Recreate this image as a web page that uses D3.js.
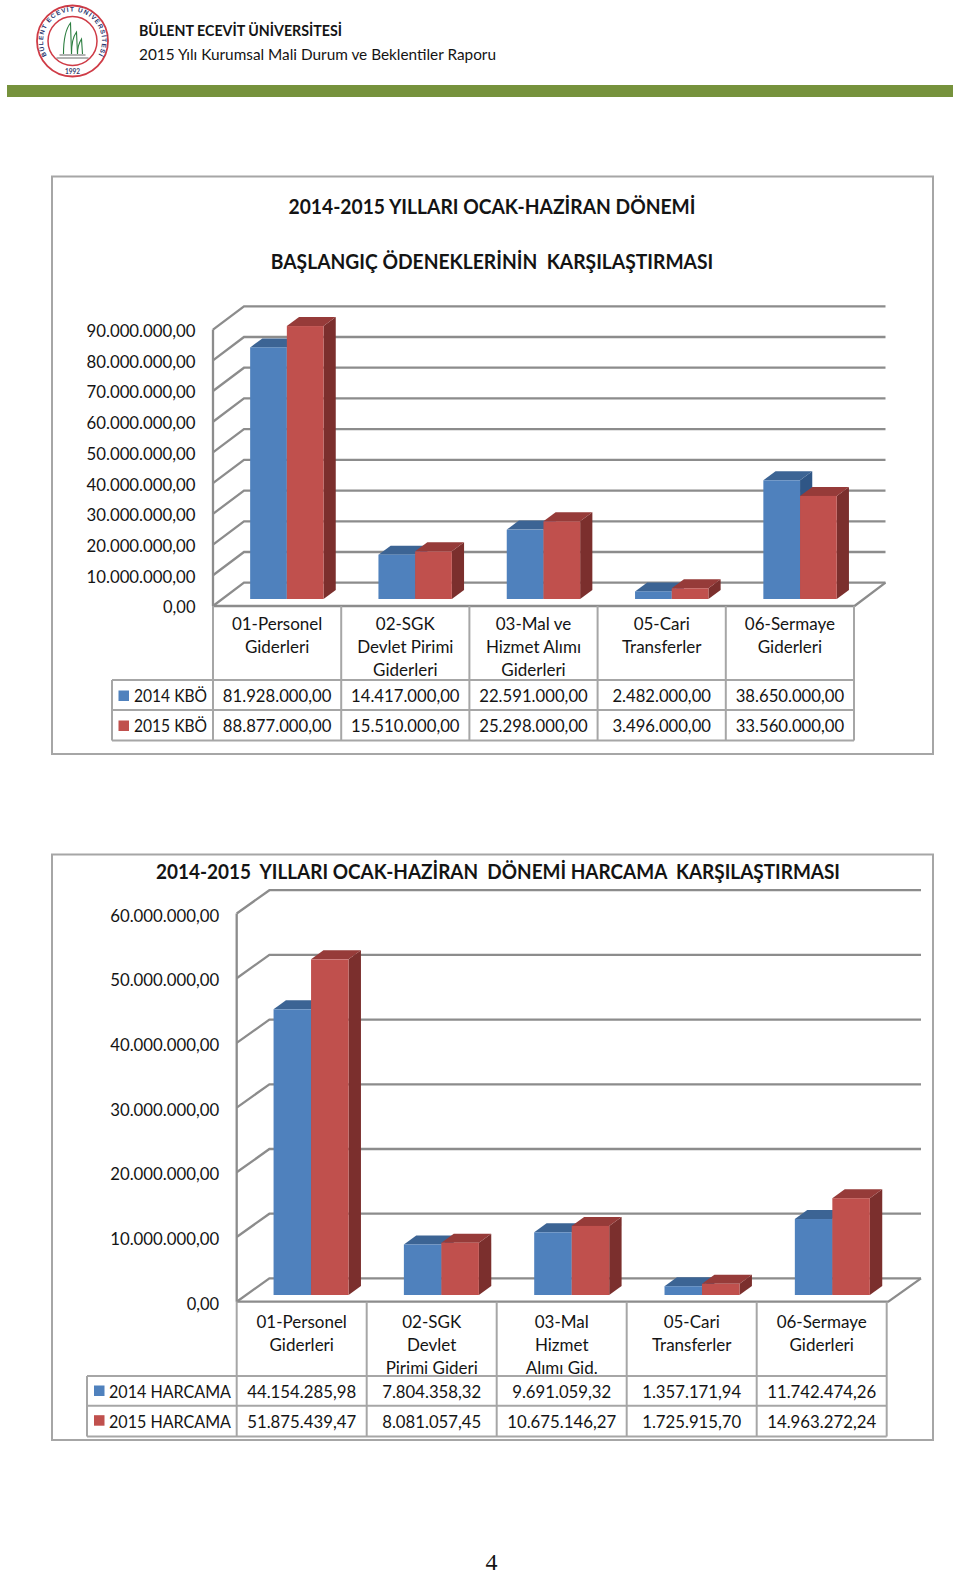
<!DOCTYPE html>
<html><head><meta charset="utf-8">
<script src="https://cdn.jsdelivr.net/npm/d3@7/dist/d3.min.js"></script>
<style>
html,body{margin:0;padding:0;background:#fff}
svg{display:block}
text{font-family:Lato,"Open Sans",sans-serif;fill:#141414;white-space:pre}
</style></head><body><svg id="c" width="960" height="1575"></svg>
<script>
// ---------- data ----------
const categoriesA = [["01-Personel","Giderleri"],["02-SGK","Devlet Pirimi","Giderleri"],["03-Mal ve","Hizmet Alımı","Giderleri"],["05-Cari","Transferler"],["06-Sermaye","Giderleri"]];
const kbo2014 = [81928000,14417000,22591000,2482000,38650000];
const kbo2015 = [88877000,15510000,25298000,3496000,33560000];
const seriesNamesA = ["2014 KBÖ","2015 KBÖ"];
const ticksA = [0,10e6,20e6,30e6,40e6,50e6,60e6,70e6,80e6,90e6];
const titleA = ["2014-2015 YILLARI OCAK-HAZİRAN DÖNEMİ","BAŞLANGIÇ ÖDENEKLERİNİN  KARŞILAŞTIRMASI"];

const categoriesB = [["01-Personel","Giderleri"],["02-SGK","Devlet","Pirimi Gideri"],["03-Mal","Hizmet","Alımı Gid."],["05-Cari","Transferler"],["06-Sermaye","Giderleri"]];
const harcama2014 = [44154285.98,7804358.32,9691059.32,1357171.94,11742474.26];
const harcama2015 = [51875439.47,8081057.45,10675146.27,1725915.70,14963272.24];
const seriesNamesB = ["2014 HARCAMA","2015 HARCAMA"];
const ticksB = [0,10e6,20e6,30e6,40e6,50e6,60e6];
const titleB = ["2014-2015  YILLARI OCAK-HAZİRAN  DÖNEMİ HARCAMA  KARŞILAŞTIRMASI"];

const headerLines = ["BÜLENT ECEVİT ÜNİVERSİTESİ","2015 Yılı Kurumsal Mali Durum ve Beklentiler Raporu"];
const seriesFront = ["#4f81bd","#c0504d"];
const seriesTop = ["#3c6494","#963b39"];
const seriesSide = ["#2f5686","#7b2f2d"];
// ---------- end data ----------

const svg = d3.select("#c");
const fmt = d3.formatLocale({decimal:",",thousands:".",grouping:[3],currency:["",""]}).format(",.2f");
const GRID="#8c8c8c", TABLE="#a6a6a6", FRAME="#a6a6a6";

function txt(g,x,y,s,size,opt={}){
  const t=g.append("text").attr("x",x).attr("y",y).attr("font-size",size)
   .attr("text-anchor",opt.anchor||"start").text(s);
  if(opt.bold)t.attr("font-weight",700);
  if(opt.len)t.attr("textLength",opt.len).attr("lengthAdjust","spacingAndGlyphs");
  return t;
}

function chart(cfg){
  const g=svg.append("g");
  g.append("rect").attr("x",cfg.frame[0]).attr("y",cfg.frame[1])
    .attr("width",cfg.frame[2]-cfg.frame[0]).attr("height",cfg.frame[3]-cfg.frame[1])
    .attr("fill","#fff").attr("stroke",FRAME).attr("stroke-width",2);

  const y=d3.scaleLinear().domain(cfg.yDomain).range([cfg.y0,cfg.yTop]);
  const x=d3.scaleBand().domain(d3.range(cfg.cats.length)).range([cfg.x0,cfg.x1]);
  const xt=d3.scaleBand().domain(d3.range(cfg.cats.length)).range([cfg.x0,cfg.tableX1]);
  const xs=d3.scaleBand().domain([0,1]).range([0,cfg.barW*2]);
  const {dx,dy}=cfg.wall;

  // walls and floor
  const walls=g.append("g").attr("fill","none").attr("stroke",GRID).attr("stroke-width",2.3);
  cfg.ticks.forEach(v=>{
    walls.append("path").attr("d",d3.line()([[cfg.x0,y(v)],[cfg.x0+dx,y(v)+dy],[cfg.x1+dx,y(v)+dy]]));
  });
  walls.append("path").attr("d",d3.line()([[cfg.x0,y(0)],[cfg.x1,y(0)],[cfg.x1+dx,y(0)+dy]]));
  walls.append("path").attr("d",d3.line()([[cfg.x0,y(0)],[cfg.x0,y(cfg.yDomain[1])]]));

  // axis labels
  const ax=g.append("g").attr("transform",`translate(${cfg.x0-17.5},${cfg.labelDy})`)
    .call(d3.axisLeft(y).tickValues(cfg.ticks).tickFormat(fmt).tickSize(0).tickPadding(0));
  ax.select(".domain").remove();
  ax.selectAll("text").attr("font-size",cfg.valFs).attr("font-family","Lato").attr("fill","#141414")
    .attr("textLength",cfg.tickLen).attr("lengthAdjust","spacingAndGlyphs");
  ax.selectAll("g.tick").filter(d=>d===0).select("text").attr("textLength",null).attr("lengthAdjust",null);

  // bars: 3D extrusion built from the scales
  const base=y(0)+cfg.barDy, bd=cfg.bar;
  cfg.cats.forEach((c,i)=>{
    const gx=x(i)+x.bandwidth()/2-cfg.barW+cfg.barDx;
    [0,1].forEach(si=>{
      const v=cfg.series[si][i];
      const x0=gx+xs(si), x1=x0+xs.bandwidth(), top=base-(y(0)-y(v));
      const b=g.append("g");
      b.append("path").attr("fill",seriesSide[si]).attr("d",d3.line()([[x1,top],[x1+bd.dx,top+bd.dy],[x1+bd.dx,base+bd.dy],[x1,base]])+"Z");
      b.append("path").attr("fill",seriesTop[si]).attr("d",d3.line()([[x0,top],[x0+bd.dx,top+bd.dy],[x1+bd.dx,top+bd.dy],[x1,top]])+"Z");
      b.append("rect").attr("x",x0).attr("y",top).attr("width",x1-x0).attr("height",base-top).attr("fill",seriesFront[si]);
    });
  });

  // data table
  const t=g.append("g");
  const line=(a,b,c,d)=>t.append("line").attr("x1",a).attr("y1",b).attr("x2",c).attr("y2",d).attr("stroke",TABLE).attr("stroke-width",2);
  const r=cfg.rows;
  line(cfg.x0,r[0],cfg.x0,r[3]);
  xt.domain().forEach(i=>line(xt(i)+xt.bandwidth(),r[0],xt(i)+xt.bandwidth(),r[3]));
  line(cfg.tableLeft,r[1],cfg.tableX1,r[1]); line(cfg.tableLeft,r[2],cfg.tableX1,r[2]); line(cfg.tableLeft,r[3],cfg.tableX1,r[3]);
  line(cfg.tableLeft,r[1],cfg.tableLeft,r[3]);
  cfg.cats.forEach((c,i)=>{
    const cx=xt(i)+xt.bandwidth()/2;
    c.forEach((s,k)=>txt(t,cx,cfg.catBase+k*cfg.catStep,s,cfg.fs,{anchor:"middle"}));
    [0,1].forEach(si=>txt(t,cx,r[si+1]+cfg.valDy[si],fmt(cfg.series[si][i]),cfg.valFs,{anchor:"middle",len:cfg.valLen(cfg.series[si][i])}));
  });
  cfg.names.forEach((n,si)=>{
    t.append("rect").attr("x",cfg.swatchX).attr("y",r[si+1]+cfg.swatchDy).attr("width",cfg.swatchW).attr("height",cfg.swatchW).attr("fill",seriesFront[si]);
    txt(t,cfg.swatchX+cfg.swatchW+cfg.nameGap,r[si+1]+cfg.valDy[si],n,cfg.valFs,{len:cfg.nameLen});
  });
  // title
  cfg.titles.forEach((s,k)=>txt(g,cfg.titleX,cfg.titleBase[k],s,cfg.titleFs,{anchor:"middle",bold:true,len:cfg.titleLen[k]}));
}

// header
(function header(){
  const g=svg.append("g");
  const cx=72.5, cy=41;
  g.append("circle").attr("cx",cx).attr("cy",cy).attr("r",35.5).attr("fill","#fff").attr("stroke","#cf3b46").attr("stroke-width",1.8);
  g.append("circle").attr("cx",cx).attr("cy",cy).attr("r",24.5).attr("fill","#fff").attr("stroke","#cf3b46").attr("stroke-width",1.5);
  const defs=g.append("defs");
  defs.append("path").attr("id","ringTop").attr("d",`M${cx-18},${cy+23.4} A29.5,29.5 0 1 1 ${cx+18},${cy+23.4}`);
  g.append("text").attr("font-size",6.4).attr("font-weight",700).style("font-family","'Liberation Sans',sans-serif").style("fill","#27346e").attr("letter-spacing",1)
    .append("textPath").attr("href","#ringTop").attr("startOffset","50%").attr("text-anchor","middle").text(headerLines[0]);
  txt(g,cx,cy+32.5,"1992",6.5,{anchor:"middle",bold:true}).style("fill","#33406e");
  const gr=g.append("g").attr("fill","none").attr("stroke","#2a7d3e").attr("stroke-width",1.1);
  gr.append("path").attr("d",`M${cx-9},${cy+13} C${cx-9},${cy-3} ${cx-6},${cy-13} ${cx-2},${cy-18} L${cx-1},${cy+13}`);
  gr.append("path").attr("d",`M${cx-1},${cy+13} C${cx-1},${cy+2} ${cx+1},${cy-5} ${cx+4},${cy-9} L${cx+5},${cy+13}`);
  gr.append("path").attr("d",`M${cx+5},${cy+13} C${cx+5},${cy+6} ${cx+7},${cy+1} ${cx+9},${cy-2} L${cx+10},${cy+13}`);
  g.append("path").attr("d",`M${cx-16},${cy+17} L${cx+16},${cy+17} M${cx-13},${cy+14} L${cx+13},${cy+14}`).attr("stroke","#666").attr("stroke-width",1);
  txt(g,139,36,headerLines[0],15.5,{bold:true,len:203});
  txt(g,139,60,headerLines[1],15,{len:357});
  g.append("rect").attr("x",7).attr("y",85).attr("width",946).attr("height",12).attr("fill","#76923c");
})();

chart({
  frame:[52,176.5,933,754], yDomain:[0,90e6], y0:606, yTop:329.6, x0:213, x1:854.5, tableX1:854, ticks:ticksA,
  wall:{dx:31,dy:-23.3}, bar:{dx:12.2,dy:-9}, barW:36.7, barDx:9.7, barDy:-7,
  cats:categoriesA, series:[kbo2014,kbo2015], names:seriesNamesA, labelDy:1.6,
  rows:[606,680,710,740.5], tableLeft:112, catBase:630, catStep:23, valDy:[21.5,21.5],
  fs:17, valFs:16.5, tickLen:109, valLen:v=>v>=1e7?108.5:98.5, nameLen:73,
  swatchX:118.5, swatchW:10.5, swatchDy:10.5, nameGap:5,
  titles:titleA, titleX:492, titleBase:[214,269], titleFs:20.5, titleLen:[407,442.5]
});
chart({
  frame:[52,854.5,933,1440], yDomain:[0,60e6], y0:1301.7, yTop:913.5, x0:236.7, x1:888.3, tableX1:886.7, ticks:ticksB,
  wall:{dx:32.7,dy:-23.3}, bar:{dx:12.4,dy:-9}, barW:37.5, barDx:9.2, barDy:-6.7,
  cats:categoriesB, series:[harcama2014,harcama2015], names:seriesNamesB, labelDy:2.4,
  rows:[1301.7,1376,1405.7,1436.5], tableLeft:87, catBase:1327.5, catStep:23, valDy:[21.5,22.5],
  fs:17, valFs:16.5, tickLen:109, valLen:v=>v>=1e7?109:99, nameLen:122,
  swatchX:94, swatchW:10.5, swatchDy:9.5, nameGap:4.5,
  titles:titleB, titleX:498, titleBase:[878.5], titleFs:20.5, titleLen:[684]
});

svg.append("text").attr("x",491.5).attr("y",1569.5).attr("text-anchor","middle").attr("font-size",24).style("font-family","'Liberation Serif',serif").text("4");
</script></body></html>
